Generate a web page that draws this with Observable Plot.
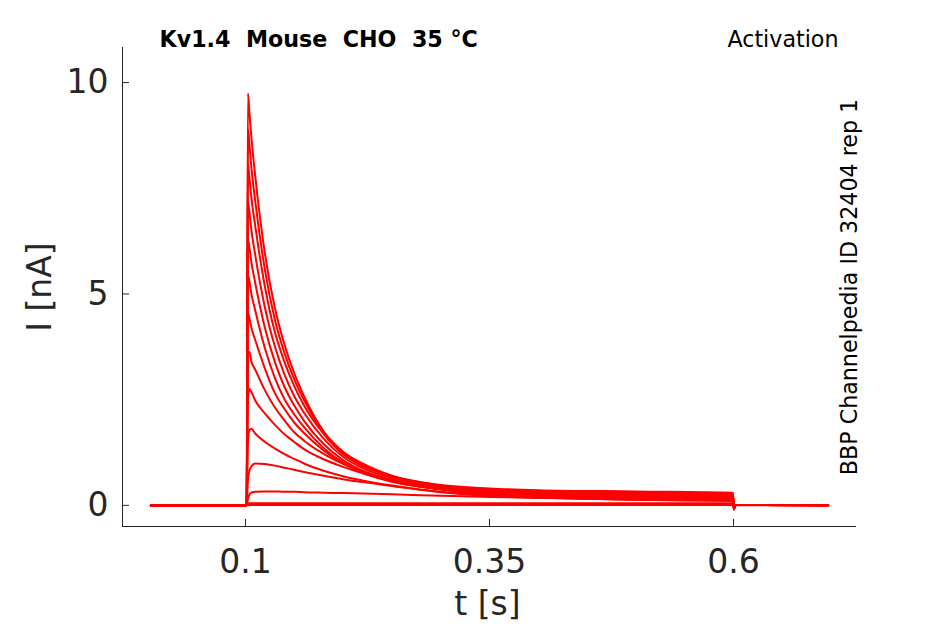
<!DOCTYPE html>
<html>
<head>
<meta charset="utf-8">
<script src="https://cdn.jsdelivr.net/npm/d3@7"></script>
<script src="https://cdn.jsdelivr.net/npm/@observablehq/plot@0.6"></script>
<style>
  html, body { margin: 0; padding: 0; background: #fff; }
</style>
</head>
<body>
<div id="chart"></div>
<script>
// Time samples (s)
const time = [0.003, 0.1012, 0.1025, 0.104, 0.106, 0.11, 0.12, 0.13, 0.14, 0.15, 0.16, 0.18, 0.2, 0.22, 0.25, 0.3, 0.35, 0.4, 0.5, 0.5995, 0.6003, 0.602, 0.697];

// Current traces (nA)
const trace1  = [0, 0, 9.74, 9.30, 8.72, 7.79, 5.94, 4.68, 3.80, 3.12, 2.58, 1.75, 1.27, 0.99, 0.70, 0.48, 0.40, 0.36, 0.33, 0.30, -0.10, 0.01, 0.01];
const trace2  = [0, 0, 8.89, 8.55, 8.00, 7.20, 5.56, 4.40, 3.60, 2.98, 2.49, 1.72, 1.24, 0.96, 0.69, 0.46, 0.37, 0.33, 0.30, 0.27, -0.10, 0.01, 0.01];
const trace3  = [0, 0, 8.06, 7.77, 7.29, 6.61, 5.16, 4.11, 3.39, 2.82, 2.36, 1.69, 1.21, 0.93, 0.69, 0.47, 0.36, 0.31, 0.28, 0.25, -0.10, 0.01, 0.01];
const trace4  = [0, 0, 7.18, 6.95, 6.53, 5.92, 4.67, 3.77, 3.09, 2.58, 2.19, 1.58, 1.15, 0.88, 0.65, 0.43, 0.33, 0.28, 0.25, 0.23, -0.09, 0.01, 0.01];
const trace5  = [0, 0, 6.30, 6.10, 5.76, 5.26, 4.19, 3.40, 2.80, 2.36, 2.00, 1.45, 1.07, 0.82, 0.61, 0.40, 0.30, 0.26, 0.22, 0.20, -0.09, 0.01, 0.00];
const trace6  = [0, 0, 5.45, 5.30, 5.01, 4.61, 3.71, 3.02, 2.51, 2.15, 1.85, 1.36, 1.01, 0.78, 0.57, 0.38, 0.28, 0.24, 0.20, 0.18, -0.08, 0.01, 0.00];
const trace7  = [0, 0, 4.55, 4.43, 4.21, 3.91, 3.23, 2.66, 2.28, 1.96, 1.71, 1.30, 1.00, 0.77, 0.56, 0.38, 0.27, 0.22, 0.18, 0.16, -0.08, 0.01, 0.00];
const trace8  = [0, 0, 3.58, 3.63, 3.41, 3.21, 2.72, 2.32, 2.01, 1.73, 1.53, 1.22, 0.98, 0.78, 0.57, 0.38, 0.27, 0.21, 0.16, 0.14, -0.07, 0.01, 0.00];
const trace9  = [0, 0, 2.50, 2.75, 2.68, 2.48, 2.17, 1.91, 1.68, 1.50, 1.33, 1.09, 0.91, 0.76, 0.58, 0.38, 0.28, 0.22, 0.15, 0.13, -0.07, 0.01, 0.00];
const trace10 = [0, 0, 1.50, 1.78, 1.81, 1.70, 1.50, 1.35, 1.21, 1.10, 0.99, 0.82, 0.69, 0.59, 0.47, 0.32, 0.24, 0.19, 0.13, 0.11, -0.06, 0.01, 0.00];
const trace11 = [0, 0, 0.60, 0.82, 0.92, 0.99, 0.98, 0.94, 0.89, 0.84, 0.79, 0.70, 0.62, 0.55, 0.46, 0.31, 0.22, 0.18, 0.13, 0.11, -0.06, 0.01, 0.00];
const trace12 = [0, 0, 0.15, 0.25, 0.30, 0.32, 0.33, 0.33, 0.32, 0.32, 0.31, 0.30, 0.29, 0.28, 0.26, 0.23, 0.20, 0.18, 0.14, 0.12, -0.05, 0.01, 0.00];
const trace13 = [0, 0, 0.03, 0.05, 0.05, 0.05, 0.05, 0.05, 0.05, 0.05, 0.05, 0.05, 0.05, 0.05, 0.05, 0.05, 0.05, 0.05, 0.05, 0.05, -0.04, 0.01, 0.00];
const trace14 = [0, 0, 0.01, 0.01, 0.01, 0.01, 0.01, 0.01, 0.01, 0.01, 0.01, 0.01, 0.01, 0.01, 0.01, 0.01, 0.01, 0.01, 0.01, 0.01, -0.03, 0.00, 0.00];

const traces = [trace1, trace2, trace3, trace4, trace5, trace6, trace7, trace8, trace9, trace10, trace11, trace12, trace13, trace14];

const xTicks = [0.1, 0.35, 0.6];
const yTicks = [0, 5, 10];
const xDomain = [-0.026, 0.726];
const yDomain = [-0.5, 10.83];

const titleText = "Kv1.4\u00a0\u00a0Mouse\u00a0\u00a0CHO\u00a0\u00a035\u00a0°C";
const protocolText = "Activation";
const sideText = "BBP Channelpedia ID 32404 rep 1";
const xLabel = "t [s]";
const yLabel = "I [nA]";

const rows = [];
traces.forEach((tr, k) => tr.forEach((v, i) => rows.push({trace: k, t: time[i], i: v})));

const axisColor = "#262626";

const chart = Plot.plot({
  width: 945,
  height: 624,
  marginLeft: 122,
  marginRight: 89,
  marginTop: 47,
  marginBottom: 98,
  x: {domain: xDomain},
  y: {domain: yDomain},
  style: {fontFamily: "DejaVu Sans", background: "#fff", overflow: "visible"},
  marks: [
    Plot.ruleX([xDomain[0]], {stroke: axisColor, strokeWidth: 1}),
    Plot.ruleY([yDomain[0]], {stroke: axisColor, strokeWidth: 1}),
    Plot.axisX({ticks: xTicks, tickSize: -7, fill: "none", stroke: axisColor, label: null}),
    Plot.axisX({ticks: xTicks, tickSize: 0, tickPadding: 23, fontSize: 33, fill: axisColor, tickFormat: d => String(d), label: null}),
    Plot.axisY({ticks: yTicks, tickSize: -7, fill: "none", stroke: axisColor, label: null}),
    Plot.axisY({ticks: yTicks, tickSize: 0, tickPadding: 14, fontSize: 33, fill: axisColor, tickFormat: d => String(d), label: null}),
    Plot.line(rows, {x: "t", y: "i", z: "trace", stroke: "#ff0000", strokeWidth: 2, curve: "monotone-x"}),
    Plot.text([titleText], {text: d => d, frameAnchor: "top-left", dx: 37, dy: -8, textAnchor: "start", lineAnchor: "middle", fontSize: 22.2, fontWeight: "bold", fill: "#000"}),
    Plot.text([protocolText], {text: d => d, frameAnchor: "top-right", dx: -18, dy: -8, textAnchor: "end", lineAnchor: "middle", fontSize: 22.2, fill: "#000"}),
    Plot.text([sideText], {text: d => d, frameAnchor: "right", dx: -7, rotate: -90, textAnchor: "middle", lineAnchor: "middle", fontSize: 22.2, fill: "#000"}),
    Plot.text([yLabel], {text: d => d, frameAnchor: "left", dx: -82, rotate: -90, textAnchor: "middle", lineAnchor: "middle", fontSize: 33, fill: axisColor}),
    Plot.text([xLabel], {text: d => d, frameAnchor: "bottom", dx: -2, dy: 78, textAnchor: "middle", lineAnchor: "middle", fontSize: 33, fill: axisColor})
  ]
});

document.getElementById("chart").appendChild(chart);
</script>
</body>
</html>
